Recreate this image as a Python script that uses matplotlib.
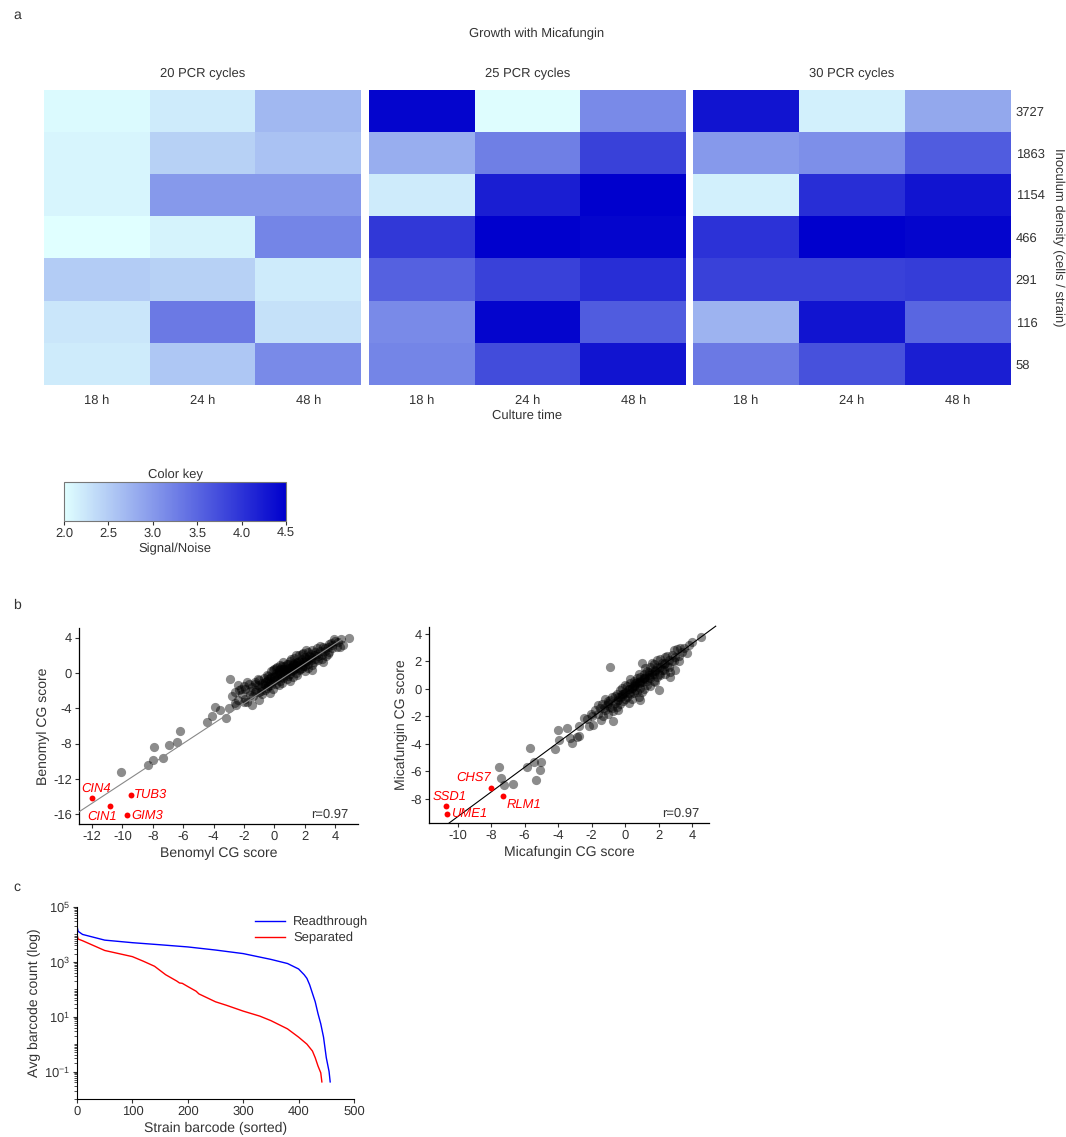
import numpy as np
import matplotlib
matplotlib.use('Agg')
import matplotlib.pyplot as plt
from matplotlib.colors import LinearSegmentedColormap
from matplotlib.ticker import FixedLocator, LogLocator, LogFormatterMathtext, NullFormatter

plt.rcParams['font.family'] = ['Liberation Sans', 'DejaVu Sans']
plt.rcParams['text.hinting'] = 'no_hinting'
plt.rcParams['text.hinting_factor'] = 1
plt.rcParams['text.color'] = '#333333'
plt.rcParams['axes.labelcolor'] = '#333333'
plt.rcParams['xtick.color'] = '#333333'
plt.rcParams['ytick.color'] = '#333333'
plt.rcParams['axes.unicode_minus'] = False

# ---- panel a data: signal/noise per inoculum density (rows) x culture time (cols)
densities = ['3727', '1863', '1154', '466', '291', '116', '58']
times = ['18 h', '24 h', '48 h']
cycles = ['20 PCR cycles', '25 PCR cycles', '30 PCR cycles']
sn_20 = [[2.05, 2.20, 2.70], [2.10, 2.45, 2.60], [2.10, 3.00, 3.00], [2.00, 2.12, 3.20],
         [2.50, 2.45, 2.20], [2.25, 3.30, 2.30], [2.20, 2.55, 3.15]]
sn_25 = [[4.45, 2.02, 3.15], [2.80, 3.25, 3.85], [2.20, 4.20, 4.50], [3.95, 4.50, 4.45],
         [3.55, 3.85, 4.05], [3.15, 4.45, 3.60], [3.20, 3.75, 4.30]]
sn_30 = [[4.30, 2.15, 2.85], [3.00, 3.10, 3.60], [2.15, 4.05, 4.30], [4.00, 4.50, 4.45],
         [3.85, 3.85, 3.90], [2.75, 4.30, 3.50], [3.30, 3.70, 4.20]]
key_ticks = [2.0, 2.5, 3.0, 3.5, 4.0, 4.5]

# ---- panel b data: CG scores (replicate x vs replicate y)
ben_x = [-10.1, -8.3, -8.0, -7.9, -7.3, -6.9, -6.4, -6.2, -4.4, -4.1, -3.9, -3.6, -3.2, -3.0,
         -2.9, -2.8, -2.6, -2.5, -2.4, -2.2, -2.0, -1.9, -1.5, -1.25,
         -2.3, -2.1, -2.0, -1.9, -1.8, -1.7, -1.6, -1.5, -1.4, -1.3, -1.2, -1.1, -1.0, -1.0, -0.9,
         -0.8, -0.8, -0.7, -0.6, -0.6, -0.5, -0.5, -0.4, -0.3, -0.3, -0.2, -0.2, -0.1, -0.1, 0.0,
         0.0, 0.1, 0.1, 0.2, 0.2, 0.3, 0.3, 0.4, 0.4, 0.5, 0.5, 0.6, 0.6, 0.7, 0.7, 0.8, 0.8, 0.9,
         0.9, 1.0, 1.0, 1.1, 1.1, 1.2, 1.2, 1.3, 1.3, 1.4, 1.4, 1.5, 1.5, 1.6, 1.6, 1.7, 1.8, 1.8,
         1.9, 1.9, 2.0, 2.0, 2.1, 2.2, 2.2, 2.3, 2.4, 2.5, 2.5, 2.6, 2.7, 2.8, 2.8, 2.9, 3.0, 3.1,
         3.2, 3.3, 3.4, 3.5, 3.6, 3.7, 3.8, 4.0, 4.1, 4.3, 4.5, 3.9, 4.9,
         0.3, 0.6, 0.9, 1.2, 1.5, 0.0, -0.4, 0.8, 1.1, 1.7, 2.1, 0.4, -0.6, 1.4, 2.4,
         -1.8, -1.6, -1.3, -1.1, -0.9, -0.7, -0.5, -0.4, -0.2, -0.1, 0.0, 0.1, 0.2, 0.3, 0.4,
         0.5, 0.6, 0.7, 0.8, 0.9, 1.0, 1.1, 1.2, 1.3, 1.4, 1.5, 1.6, 1.7, 1.8, 1.9, 2.0, 2.1,
         2.2, 2.3, 2.4, 2.6, 2.7, 2.9, 3.0, 3.1, 3.3, 3.5, 3.6, 3.8, 4.2, 4.4, -2.6, -2.4, -1.0,
         -0.3, 0.5, 1.0, 2.5, 3.2, 2.0]
ben_y = [-11.2, -10.4, -9.8, -8.4, -9.6, -8.2, -7.8, -6.6, -5.6, -4.9, -3.8, -4.2, -5.1, -4.0,
         -0.7, -2.6, -3.4, -3.6, -3.0, -1.8, -3.3, -1.8, -3.6, -1.2,
         -1.9, -2.4, -1.5, -2.9, -3.3, -1.2, -2.0, -1.6, -2.6, -1.0, -1.9, -1.4, -2.2, -0.8, -1.6,
         -1.1, -2.4, -0.6, -1.9, -1.3, -0.9, -0.2, -1.5, -0.6, -1.1, 0.2, -0.4, -1.8, -0.9, -0.3,
         0.4, -1.2, 0.0, -0.6, 0.7, -0.2, 0.3, -0.9, 0.9, 0.1, -0.4, 0.5, 1.2, -0.2, 0.8, 0.2, -0.7,
         1.0, 0.5, -0.1, 1.4, 0.7, 0.2, 1.1, -0.4, 0.5, 1.7, 0.9, 0.0, 1.3, 0.6, 2.0, 0.3, 1.0, 1.6,
         0.6, 2.3, 1.2, 0.8, 1.8, 1.4, 2.4, 1.0, 1.9, 1.5, 2.6, 0.9, 2.0, 1.6, 2.8, 2.2, 1.5, 2.5,
         2.0, 3.0, 2.5, 1.9, 2.9, 2.4, 3.4, 2.8, 3.6, 3.0, 2.9, 3.2, 3.9, 4.0,
         0.1, 0.4, 0.6, 0.9, 1.1, -0.5, -0.7, 0.1, 0.5, 1.3, 1.6, -0.1, -1.0, 0.8, 1.8,
         -1.0, -2.5, -2.1, -0.7, -2.0, -1.2, -1.7, -0.3, -1.3, 0.3, -0.8, 0.6, -0.2, -1.3, 0.4,
         0.8, -0.6, 0.3, 1.0, -0.3, 0.6, 1.6, 0.3, 1.0, 2.0, -0.2, 1.4, 0.5, 2.1, 0.8, 1.3, 2.6,
         0.6, 1.6, 2.2, 1.2, 2.4, 1.9, 3.1, 1.6, 2.8, 2.2, 3.3, 3.2, 3.5, 3.9, -2.2, -1.4, -3.0,
         -2.3, -1.1, -0.9, 0.3, 1.3, 0.2]
ben_hits = ['CIN4', 'CIN1', 'TUB3', 'GIM3']
ben_hit_x = [-12.0, -10.8, -9.4, -9.7]
ben_hit_y = [-14.1, -15.1, -13.8, -16.1]
ben_fit = (1.13, -1.2)

mic_x = [-0.9, -7.55, -7.4, -7.25, -6.7, -5.7, -5.45, -5.0, -5.1, -5.3, -5.85, -4.2, -4.0, -3.45,
         -3.3, -3.15, -2.75, -3.95, -2.45, -2.75, -2.15, -2.05, -1.45, -1.25, -0.7, -1.05, -2.3,
         -2.9, -1.9, -1.6,
         -1.6, -1.4, -1.3, -1.2, -1.0, -1.0, -0.9, -0.8, -0.7, -0.6, -0.5, -0.5, -0.4, -0.3, -0.3,
         -0.2, -0.1, 0.0, 0.0, 0.1, 0.2, 0.2, 0.3, 0.3, 0.4, 0.5, 0.5, 0.6, 0.7, 0.7, 0.8, 0.8, 0.9,
         0.9, 1.0, 1.0, 1.1, 1.1, 1.2, 1.3, 1.3, 1.4, 1.5, 1.5, 1.6, 1.7, 1.7, 1.8, 1.9, 1.9, 2.0,
         2.0, 2.1, 2.2, 2.3, 2.4, 2.5, 2.6, 2.7, 2.8, 2.9, 3.0, 3.1, 3.2, 3.4, 3.7, 3.3, 4.5,
         0.2, 0.5, 0.8, 1.1, 1.4, 1.6, 1.2, 0.6, 0.0, -0.4, 2.1, 2.4, 0.9, 1.8, -0.2, 0.4,
         -1.5, -1.2, -1.1, -0.9, -0.8, -0.6, -0.5, -0.4, -0.3, -0.2, -0.1, 0.0, 0.1, 0.2, 0.3,
         0.4, 0.5, 0.6, 0.7, 0.8, 0.9, 1.0, 1.1, 1.2, 1.3, 1.4, 1.5, 1.6, 1.7, 1.8, 1.9, 2.0,
         2.1, 2.2, 2.3, 2.4, 2.5, 2.6, 2.8, 2.9, 3.0, 3.2, 3.5, 3.8, 4.0, -1.8, -2.0, 0.9, 2.7]
mic_y = [1.6, -5.7, -6.5, -7.0, -6.9, -4.3, -5.3, -5.3, -5.9, -6.6, -5.65, -4.4, -3.0, -2.85,
         -3.6, -3.95, -3.45, -3.7, -2.1, -2.7, -2.7, -1.8, -2.25, -1.4, -2.3, -1.0, -2.2,
         -3.5, -2.6, -1.15,
         -1.8, -1.1, -2.0, -1.5, -0.9, -1.8, -1.3, -0.6, -1.6, -1.0, -0.4, -1.3, -0.8, -0.1, -1.1,
         -0.5, -0.9, -0.2, 0.3, -0.6, 0.0, -1.0, 0.4, -0.4, 0.1, -0.3, 0.6, 0.2, -0.2, 0.8, 0.4,
         -0.6, 0.9, 0.1, 0.5, 1.9, 1.1, 0.0, 0.7, 1.3, 0.3, 0.9, 1.6, 0.2, 1.1, 0.6, 1.8, 1.3, 0.9,
         2.1, 1.5, -0.1, 1.0, 1.9, 1.4, 2.3, 1.7, 2.1, 1.2, 2.5, 2.0, 1.4, 2.9, 2.4, 2.7, 2.6, 3.0,
         3.8, 0.0, 0.2, 0.5, 0.8, 1.0, 1.2, 0.9, 0.4, -0.3, -0.6, 1.6, 1.9, 0.6, 1.4, -0.4, 0.1,
         -1.4, -0.7, -1.2, -0.8, -1.4, -0.5, -0.9, -1.5, -0.6, 0.1, -0.4, -0.7, 0.2, -0.3, 0.7,
         -0.7, 0.3, -0.1, 0.5, 1.1, 0.4, -0.2, 0.8, 1.5, 0.6, 1.2, 0.8, 1.9, 1.1, 0.5, 1.6, 1.1,
         2.2, 1.4, 1.8, 1.1, 2.4, 1.6, 2.0, 2.8, 2.3, 2.0, 3.0, 3.2, 3.4, -1.5, -2.0, -0.8, 0.9]
mic_hits = ['CHS7', 'RLM1', 'SSD1', 'UME1']
mic_hit_x = [-8.0, -7.3, -10.7, -10.65]
mic_hit_y = [-7.2, -7.8, -8.55, -9.1]
mic_fit = (0.9, -0.3)

# ---- panel c data: average barcode count per strain, sorted
rt_x = [0, 2, 10, 50, 100, 150, 200, 250, 300, 350, 380, 400, 410, 415, 420, 425, 430, 435, 440,
        445, 450, 455, 457]
rt_counts = [2.0e4, 1.3e4, 1.0e4, 6.2e3, 5.0e3, 4.2e3, 3.5e3, 2.7e3, 2.0e3, 1.23e3, 870, 550, 340,
             250, 145, 71, 35, 13, 5.5, 1.8, 0.32, 0.1, 0.042]
sep_x = [0, 2, 10, 50, 100, 120, 140, 160, 180, 185, 190, 200, 215, 220, 250, 270, 300, 330, 350,
         380, 400, 415, 425, 430, 435, 440, 442]
sep_counts = [1.0e4, 6.8e3, 5.9e3, 2.6e3, 1.55e3, 1.05e3, 690, 340, 200, 170, 165, 126, 85, 68,
              35, 26, 16, 10.5, 7.2, 3.6, 1.8, 1.0, 0.56, 0.32, 0.16, 0.09, 0.042]

W, H = 1066, 1137
fig = plt.figure(figsize=(W / 100, H / 100), dpi=100)


def box(x0, y0, x1, y1):
    # pixel box (top-left origin) -> figure fraction rect
    return [x0 / W, 1 - y1 / H, (x1 - x0) / W, (y1 - y0) / H]


cmap = LinearSegmentedColormap.from_list('sn', ['#E0FFFF', '#0000CD'])

# ---------------- panel a
fig.text(13 / W, 1 - 15 / H, 'a', fontsize=10, va='center')
fig.text(537 / W, 1 - 34 / H, 'Growth with Micafungin', fontsize=9.5, ha='center', va='center')
lefts = [44, 369, 693]
im = None
for left, title, vals in zip(lefts, cycles, [sn_20, sn_25, sn_30]):
    ax = fig.add_axes(box(left, 90, left + 317, 385))
    im = ax.imshow(np.array(vals), cmap=cmap, vmin=2.0, vmax=4.5, aspect='auto')
    ax.set_title(title, fontsize=9.5, pad=9)
    ax.set_xticks(range(len(times)))
    ax.set_xticklabels(times, fontsize=9)
    ax.tick_params(axis='x', length=0, pad=7)
    for s in ax.spines.values():
        s.set_visible(False)
    if left == lefts[-1]:
        ax.yaxis.tick_right()
        ax.set_yticks(range(len(densities)))
        ax.set_yticklabels(densities, fontsize=9)
        ax.tick_params(axis='y', length=0, pad=4)
    else:
        ax.set_yticks([])
fig.text(527 / W, 1 - 416 / H, 'Culture time', fontsize=9.5, ha='center', va='center')
fig.text(1058 / W, 1 - 237 / H, 'Inoculum density (cells / strain)', fontsize=9.5,
         rotation=270, ha='center', va='center')

cax = fig.add_axes(box(64, 482, 286, 521))
cb = fig.colorbar(im, cax=cax, orientation='horizontal', ticks=key_ticks)
cb.outline.set_edgecolor('#777777')
cb.outline.set_linewidth(0.8)
cax.set_xticklabels([f'{t:.1f}' for t in key_ticks], fontsize=9.5)
cax.tick_params(axis='x', length=3, width=0.8, pad=2)
cax.set_title('Color key', fontsize=9.5, pad=3)
cax.set_xlabel('Signal/Noise', fontsize=9.5, labelpad=2)

# ---------------- panel b
fig.text(13 / W, 1 - 605 / H, 'b', fontsize=10, va='center')


def cg_scatter(rect, xs, ys, hits, hx, hy, fit, xlim, ylim, xticks, yticks, label, offsets,
               line_x, line_color, line_clip):
    ax = fig.add_axes(rect)
    ax.scatter(xs, ys, s=44, color='black', alpha=0.45, linewidths=0, zorder=2)
    lx = np.array(line_x)
    ax.plot(lx, fit[0] * lx + fit[1], color=line_color, lw=0.8, zorder=3, clip_on=line_clip)
    ax.scatter(hx, hy, s=18, color='#FF0000', linewidths=0, zorder=4)
    for name, x, y, (dx, dy, ha, va) in zip(hits, hx, hy, offsets):
        ax.annotate(name, (x, y), xytext=(dx, dy), textcoords='offset points', ha=ha, va=va,
                    fontsize=9.5, style='italic', color='#FF0000')
    ax.text(0.965, 0.05, 'r=0.97', transform=ax.transAxes, ha='right', va='center', fontsize=9.5)
    ax.set_xlim(*xlim)
    ax.set_ylim(*ylim)
    ax.set_xticks(xticks)
    ax.set_yticks(yticks)
    ax.tick_params(labelsize=9.5, length=3, width=0.8, pad=2)
    ax.spines['top'].set_visible(False)
    ax.spines['right'].set_visible(False)
    for s in ['left', 'bottom']:
        ax.spines[s].set_linewidth(0.9)
    ax.set_xlabel(label, fontsize=10, labelpad=3)
    ax.set_ylabel(label, fontsize=10, labelpad=2)
    return ax


cg_scatter(box(79, 628, 358, 824), ben_x, ben_y, ben_hits, ben_hit_x, ben_hit_y, ben_fit,
           (-12.85, 5.5), (-17.1, 5.1), range(-12, 5, 2), range(-16, 5, 4), 'Benomyl CG score',
           [(3, 2, 'center', 'bottom'), (5, -3, 'right', 'top'), (2, 0, 'left', 'center'),
            (3, 0, 'left', 'center')],
           [-12.85, 4.8], '#888888', True)
cg_scatter(box(429, 627, 709, 823), mic_x, mic_y, mic_hits, mic_hit_x, mic_hit_y, mic_fit,
           (-11.7, 5.0), (-9.75, 4.5), range(-10, 5, 2), range(-8, 5, 2), 'Micafungin CG score',
           [(0, 3, 'right', 'bottom'), (3, -2, 'left', 'top'), (3, 3, 'center', 'bottom'),
            (3, 0, 'left', 'center')],
           [-10.5, 5.4], 'black', False)

# ---------------- panel c
fig.text(13 / W, 1 - 887 / H, 'c', fontsize=10, va='center')
ax = fig.add_axes(box(77, 907, 354, 1099))
ax.plot(rt_x, rt_counts, color='#0000FF', lw=1, label='Readthrough')
ax.plot(sep_x, sep_counts, color='#FF0000', lw=1, label='Separated')
ax.set_yscale('log')
ax.set_xlim(0, 500)
ax.set_ylim(1e-2, 1e5)
ax.yaxis.set_major_locator(FixedLocator([1e-1, 1e1, 1e3, 1e5]))
ax.yaxis.set_major_formatter(LogFormatterMathtext())
ax.yaxis.set_minor_locator(LogLocator(base=10, subs=np.arange(1, 10), numticks=20))
ax.yaxis.set_minor_formatter(NullFormatter())
ax.tick_params(labelsize=9.5, length=3, width=0.8, pad=2)
ax.tick_params(which='minor', length=2, width=0.6)
ax.spines['top'].set_visible(False)
ax.spines['right'].set_visible(False)
ax.set_xlabel('Strain barcode (sorted)', fontsize=10, labelpad=3)
ax.set_ylabel('Avg barcode count (log)', fontsize=10, labelpad=2)
ax.legend(loc='upper right', frameon=False, fontsize=9.5, handlelength=2.3, handletextpad=0.6,
          bbox_to_anchor=(1.07, 0.98), borderaxespad=0, labelspacing=0.3)

fig.savefig('out.png', dpi=100)
